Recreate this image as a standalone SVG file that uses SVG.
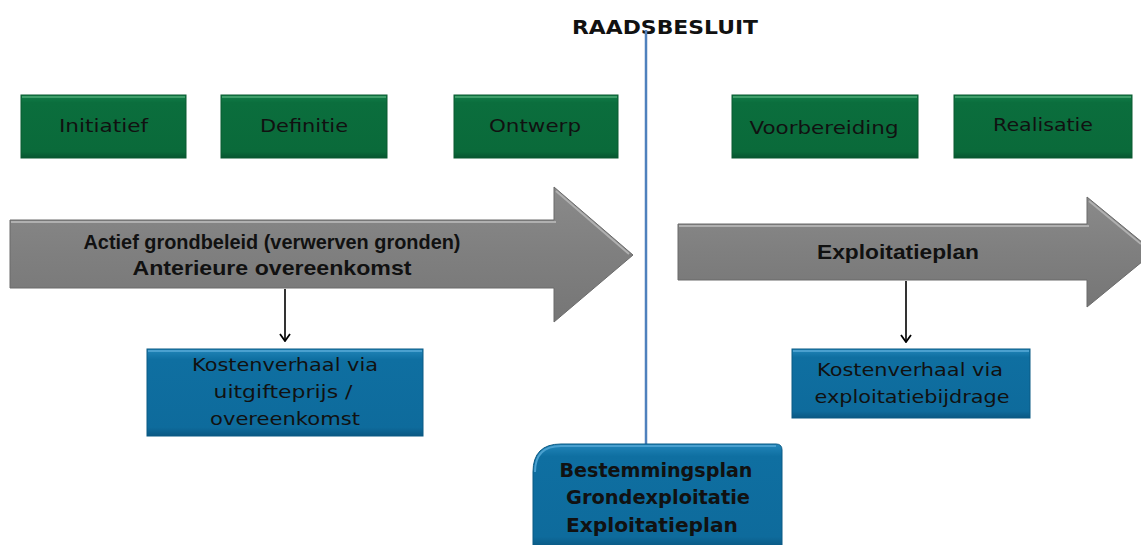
<svg xmlns="http://www.w3.org/2000/svg" width="1141" height="545" viewBox="0 0 1141 545">
<defs>
<style>
.green{fill:url(#gGreen);stroke:#0a5a31;stroke-width:1}
.blue{fill:url(#gBlue);stroke:#0b5a84;stroke-width:1}
.arrow{fill:url(#gGrey);stroke:#6b6b6b;stroke-width:1}
.hl{fill:none;stroke:#b0b0b0;stroke-width:2}
.hlG{fill:none;stroke:#3f9e6a;stroke-width:2}
.hlB{fill:none;stroke:#4aa0cf;stroke-width:2}
.lbl{font-family:"DejaVu Sans","Liberation Sans",sans-serif;font-size:17px;fill:#111;text-anchor:middle}
.bold{font-family:"Liberation Sans","DejaVu Sans",sans-serif;font-weight:bold;font-size:21px;fill:#111;text-anchor:middle}
.bbold{font-family:"DejaVu Sans","Liberation Sans",sans-serif;font-weight:bold;font-size:19px;fill:#111;text-anchor:middle}
.conn{stroke:#000;stroke-width:1.6;fill:none;marker-end:url(#vhead)}
</style>
<linearGradient id="gGreen" x1="0" y1="0" x2="0" y2="1">
<stop offset="0" stop-color="#12804a"/>
<stop offset="0.12" stop-color="#0b6e3d"/>
<stop offset="0.9" stop-color="#0a6a3a"/>
<stop offset="1" stop-color="#075530"/>
</linearGradient>
<linearGradient id="gBlue" x1="0" y1="0" x2="0" y2="1">
<stop offset="0" stop-color="#2286ba"/>
<stop offset="0.12" stop-color="#0f6fa1"/>
<stop offset="0.9" stop-color="#0e6b9c"/>
<stop offset="1" stop-color="#0a5883"/>
</linearGradient>
<linearGradient id="gGrey" x1="0" y1="0" x2="0" y2="1">
<stop offset="0" stop-color="#8a8a8a"/>
<stop offset="0.5" stop-color="#7f7f7f"/>
<stop offset="1" stop-color="#767676"/>
</linearGradient>
<marker id="vhead" viewBox="0 0 12 12" refX="11" refY="6" markerWidth="12" markerHeight="12" markerUnits="userSpaceOnUse" orient="auto">
<path d="M4,1 L11,6 L4,11" fill="none" stroke="#000" stroke-width="1.8"/>
</marker>
</defs>
<rect width="1141" height="545" fill="#fff"/>

<g id="raadsbesluit">
<text class="bbold" x="665" y="34" font-size="20" textLength="186" lengthAdjust="spacingAndGlyphs">RAADSBESLUIT</text>
</g>

<g id="connectors">
<line x1="646" y1="30" x2="646" y2="445" stroke="#4f81bd" stroke-width="2.5"/>
<line class="conn" x1="285" y1="289" x2="285" y2="341"/>
<line class="conn" x1="906" y1="281" x2="906" y2="342"/>
</g>

<g id="initiatief">
<rect class="green" x="21" y="95" width="165" height="63"/>
<polyline class="hlG" points="22,97 185,97"/>
<text class="lbl" x="103.5" y="132" textLength="89" lengthAdjust="spacingAndGlyphs">Initiatief</text>
</g>
<g id="definitie">
<rect class="green" x="221" y="95" width="166" height="63"/>
<polyline class="hlG" points="222,97 386,97"/>
<text class="lbl" x="304" y="132" textLength="88" lengthAdjust="spacingAndGlyphs">Definitie</text>
</g>
<g id="ontwerp">
<rect class="green" x="454" y="95" width="164" height="63"/>
<polyline class="hlG" points="455,97 617,97"/>
<text class="lbl" x="535" y="132" textLength="92" lengthAdjust="spacingAndGlyphs">Ontwerp</text>
</g>
<g id="voorbereiding">
<rect class="green" x="732" y="95" width="186" height="63"/>
<polyline class="hlG" points="733,97 917,97"/>
<text class="lbl" x="824" y="134" textLength="149" lengthAdjust="spacingAndGlyphs">Voorbereiding</text>
</g>
<g id="realisatie">
<rect class="green" x="954" y="95" width="178" height="63"/>
<polyline class="hlG" points="955,97 1131,97"/>
<text class="lbl" x="1043" y="131" textLength="100" lengthAdjust="spacingAndGlyphs">Realisatie</text>
</g>

<g id="arrow-left">
<polygon class="arrow" points="10,220 554,220 554,187 633,255 554,322 554,288 10,288"/>
<polyline class="hl" points="11,222 556,222"/>
<polyline class="hl" points="556,191 629,254"/>
<text class="bold" x="272" y="249" font-size="22" textLength="377" lengthAdjust="spacingAndGlyphs">Actief grondbeleid (verwerven gronden)</text>
<text class="bold" x="272" y="275" textLength="279" lengthAdjust="spacingAndGlyphs">Anterieure overeenkomst</text>
</g>

<g id="arrow-right">
<polygon class="arrow" points="678,224 1087,224 1087,197 1154,252 1087,307 1087,280 678,280"/>
<polyline class="hl" points="679,226 1089,226"/>
<polyline class="hl" points="1089,201 1141,244"/>
<text class="bold" x="898" y="259" textLength="162" lengthAdjust="spacingAndGlyphs">Exploitatieplan</text>
</g>

<g id="kosten-uitgifte">
<rect class="blue" x="147" y="349" width="276" height="87"/>
<polyline class="hlB" points="148,351 422,351"/>
<text class="lbl" x="285" y="371" textLength="186" lengthAdjust="spacingAndGlyphs">Kostenverhaal via</text>
<text class="lbl" x="283" y="398" textLength="139" lengthAdjust="spacingAndGlyphs">uitgifteprijs  /</text>
<text class="lbl" x="285" y="425" textLength="150" lengthAdjust="spacingAndGlyphs">overeenkomst</text>
</g>

<g id="kosten-exploitatie">
<rect class="blue" x="792" y="349" width="238" height="69"/>
<polyline class="hlB" points="793,351 1029,351"/>
<text class="lbl" x="910" y="376" textLength="186" lengthAdjust="spacingAndGlyphs">Kostenverhaal via</text>
<text class="lbl" x="912" y="403" textLength="195" lengthAdjust="spacingAndGlyphs">exploitatiebijdrage</text>
</g>

<g id="bestemmingsplan">
<path class="blue" d="M533,547 L533,472 Q533,444 561,444 L776,444 Q782,444 782,450 L782,547 Z"/>
<path class="hlB" d="M535,472 Q535,446 561,446 L776,446"/>
<text class="bbold" x="656" y="477" textLength="193" lengthAdjust="spacingAndGlyphs">Bestemmingsplan</text>
<text class="bbold" x="658" y="504" textLength="184" lengthAdjust="spacingAndGlyphs">Grondexploitatie</text>
<text class="bbold" x="652" y="532" textLength="172" lengthAdjust="spacingAndGlyphs">Exploitatieplan</text>
</g>
</svg>
